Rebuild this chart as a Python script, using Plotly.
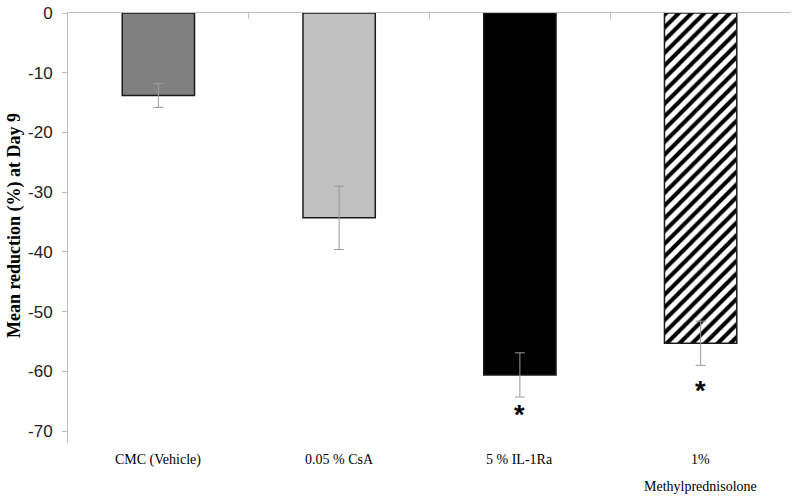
import plotly.graph_objects as go

categories = ["CMC (Vehicle)", "0.05 % CsA", "5 % IL-1Ra", "1%<br>Methylprednisolone"]
means = [-13.8, -34.3, -60.6, -55.3]
errors = [2.0, 5.3, 3.7, 3.7]
asterisk_y = [None, None, -66.7, -62.7]
y_ticks = [0, -10, -20, -30, -40, -50, -60, -70]
y_tick_text = ["0", "-10", "-20", "-30", "-40", "-50", "-60", "-70"]

fills = ["#808080", "#c0c0c0", "#000000", "#000000"]
patterns = ["", "", "", "/"]

fig = go.Figure()
fig.add_trace(go.Bar(
    x=categories, y=means,
    marker=dict(color=fills, line=dict(color="#1a1a1a", width=1.5),
                pattern=dict(shape=patterns, bgcolor="#ffffff",
                             size=9, solidity=0.45, fillmode="replace")),
    error_y=dict(type="data", array=errors, color="#9a9a9a", thickness=1, width=5),
    width=0.4, showlegend=False,
))

annotations = []
for c, a in zip(categories, asterisk_y):
    if a is not None:
        annotations.append(dict(x=c, y=a, xref="x", yref="y", text="<b>*</b>",
                                showarrow=False, yanchor="middle", yshift=-4,
                                font=dict(family="Liberation Sans", size=27, color="#000")))
    for i, line in enumerate(c.split("<br>")):
        annotations.append(dict(x=c, y=0, xref="x", yref="paper", text=line, showarrow=False,
                                yanchor="top", yshift=-7 - 27 * i, align="center",
                                font=dict(family="Liberation Serif", size=14, color="#000")))
annotations.append(dict(x=-0.073, y=0.505, xref="paper", yref="paper",
                        text="<b>Mean reduction (%) at Day 9</b>", textangle=-90,
                        showarrow=False, xanchor="center", yanchor="middle",
                        font=dict(family="Liberation Serif", size=18, color="#000")))

fig.update_layout(
    width=800, height=502,
    margin=dict(l=68, r=9, t=13, b=59),
    plot_bgcolor="white", paper_bgcolor="white",
    annotations=annotations,
    xaxis=dict(side="top", showline=True, linecolor="#bfbfbf", linewidth=1,
               ticks="inside", ticklen=6, tickcolor="#bfbfbf", tickson="boundaries",
               showticklabels=False, showgrid=False, zeroline=False, automargin=False),
    yaxis=dict(range=[-72, 0], tickvals=y_ticks, ticktext=y_tick_text, showline=True,
               linecolor="#bfbfbf", linewidth=1, ticks="outside", ticklen=5,
               tickcolor="#bfbfbf", showgrid=False, zeroline=False, automargin=False,
               ticklabelstandoff=6, ticklabeloverflow="allow",
               tickfont=dict(family="Liberation Sans", size=17, color="#222")),
)

fig.write_html("out.html", config={"displayModeBar": False},
               post_script="document.body.style.margin='0';document.body.style.overflow='hidden';")
